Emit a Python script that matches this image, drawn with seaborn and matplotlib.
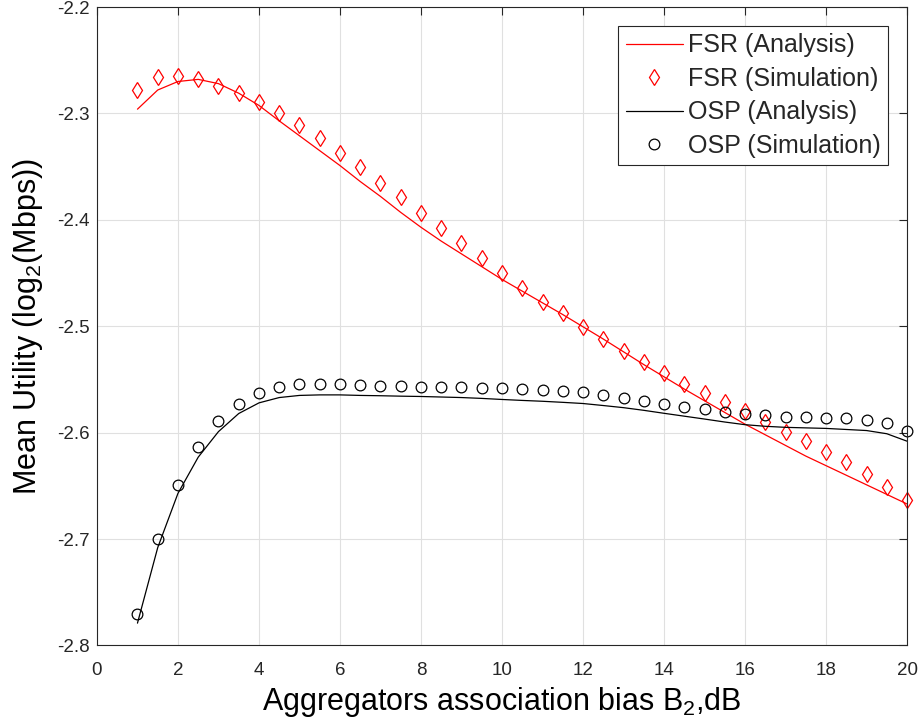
import numpy as np
import pandas as pd
import matplotlib
matplotlib.use("Agg")
import matplotlib.pyplot as plt
import seaborn as sns

# ---------------- data ----------------
bias_db = [1.0, 1.5, 2.0, 2.5, 3.0, 3.5, 4.0, 4.5, 5.0, 5.5,
           6.0, 6.5, 7.0, 7.5, 8.0, 8.5, 9.0, 9.5, 10.0, 10.5,
           11.0, 11.5, 12.0, 12.5, 13.0, 13.5, 14.0, 14.5, 15.0, 15.5,
           16.0, 16.5, 17.0, 17.5, 18.0, 18.5, 19.0, 19.5, 20.0]

fsr_analysis = [-2.296, -2.278, -2.270, -2.268, -2.272, -2.281, -2.2925, -2.307, -2.321, -2.335,
                -2.349, -2.364, -2.378, -2.393, -2.407, -2.420, -2.432, -2.444, -2.456, -2.467,
                -2.478, -2.489, -2.5005, -2.512, -2.524, -2.536, -2.5475, -2.559, -2.570, -2.581,
                -2.592, -2.602, -2.612, -2.622, -2.631, -2.640, -2.649, -2.658, -2.667]

fsr_simulation = [-2.278, -2.266, -2.265, -2.268, -2.274, -2.281, -2.289, -2.300, -2.311, -2.323,
                  -2.337, -2.350, -2.365, -2.379, -2.394, -2.408, -2.422, -2.436, -2.450, -2.464,
                  -2.477, -2.488, -2.501, -2.512, -2.523, -2.534, -2.544, -2.554, -2.563, -2.571,
                  -2.580, -2.590, -2.599, -2.608, -2.618, -2.628, -2.639, -2.651, -2.663]

osp_analysis = [-2.779, -2.708, -2.657, -2.623, -2.599, -2.582, -2.572, -2.567, -2.565, -2.5645,
                -2.5645, -2.565, -2.5653, -2.5657, -2.566, -2.5665, -2.567, -2.5678, -2.5688, -2.5697,
                -2.5705, -2.5715, -2.5726, -2.5745, -2.5765, -2.5790, -2.5818, -2.5845, -2.5872, -2.5900,
                -2.5925, -2.5940, -2.5950, -2.5955, -2.5960, -2.5970, -2.5980, -2.6010, -2.6080]

osp_simulation = [-2.770, -2.700, -2.649, -2.613, -2.589, -2.573, -2.563, -2.557, -2.554, -2.5545,
                  -2.5545, -2.555, -2.5557, -2.556, -2.557, -2.557, -2.557, -2.558, -2.558, -2.559,
                  -2.560, -2.561, -2.562, -2.5645, -2.567, -2.570, -2.573, -2.576, -2.578, -2.581,
                  -2.582, -2.583, -2.585, -2.585, -2.586, -2.586, -2.588, -2.591, -2.598]

x_ticks = [0, 2, 4, 6, 8, 10, 12, 14, 16, 18, 20]
x_tick_labels = ["0", "2", "4", "6", "8", "10", "12", "14", "16", "18", "20"]
y_ticks = [-2.8, -2.7, -2.6, -2.5, -2.4, -2.3, -2.2]
y_tick_labels = ["-2.8", "-2.7", "-2.6", "-2.5", "-2.4", "-2.3", "-2.2"]

series_labels = ["FSR (Analysis)", "FSR (Simulation)", "OSP (Analysis)", "OSP (Simulation)"]
x_label = "Aggregators association bias B$_{2}$,dB"
y_label = "Mean Utility (log$_{2}$(Mbps))"

# ---------------- style ----------------
sns.set_style("white")
plt.rcParams["font.family"] = ["Liberation Sans", "DejaVu Sans"]
plt.rcParams["mathtext.fontset"] = "custom"
plt.rcParams["mathtext.rm"] = "Liberation Sans"
plt.rcParams["mathtext.it"] = "Liberation Sans:italic"
plt.rcParams["mathtext.bf"] = "Liberation Sans:bold"
plt.rcParams["axes.unicode_minus"] = False

RED = "#ff0000"
BLACK = "#000000"
AXC = "#262626"

fig = plt.figure(figsize=(9.2, 7.23), dpi=100)
ax = fig.add_axes([0.1054, 0.1072, 0.8805, 0.8831])

sns.lineplot(x=bias_db, y=fsr_analysis, color=RED, linewidth=0.9,
             label=series_labels[0], errorbar=None, ax=ax)
sns.lineplot(x=bias_db, y=fsr_simulation, color=RED, linestyle="", marker="d",
             markersize=8.0, markerfacecolor="none", markeredgecolor=RED,
             markeredgewidth=0.9, label=series_labels[1], errorbar=None,
             clip_on=False, ax=ax)
sns.lineplot(x=bias_db, y=osp_analysis, color=BLACK, linewidth=0.9,
             label=series_labels[2], errorbar=None, ax=ax)
sns.lineplot(x=bias_db, y=osp_simulation, color=BLACK, linestyle="", marker="o",
             markersize=7.7, markerfacecolor="none", markeredgecolor=BLACK,
             markeredgewidth=0.9, label=series_labels[3], errorbar=None,
             clip_on=False, ax=ax)

ax.set_xlim(0, 20)
ax.set_ylim(-2.8, -2.2)
ax.set_xticks(x_ticks)
ax.set_xticklabels(x_tick_labels)
ax.set_yticks(y_ticks)
ax.set_yticklabels(y_tick_labels)

ax.grid(True, color="#e0e0e0", linewidth=0.8)
ax.set_axisbelow(True)
for sp in ax.spines.values():
    sp.set_visible(True)
    sp.set_color(AXC)
    sp.set_linewidth(0.8)

ax.tick_params(axis="both", direction="in", length=6, width=0.8, color=AXC,
               top=True, right=True, labelsize=13.5, labelcolor=AXC)
ax.tick_params(axis="x", pad=12)
ax.tick_params(axis="y", pad=5)

ax.set_xlabel(x_label, fontsize=22, labelpad=4, color=BLACK)
ax.set_ylabel(y_label, fontsize=22, labelpad=9, color=BLACK)

leg = ax.legend(loc="upper right", fontsize=18, frameon=True, fancybox=False,
                edgecolor=AXC, framealpha=1, numpoints=1, handlelength=2.3,
                handletextpad=0.2, borderaxespad=0.75, labelspacing=0.38,
                borderpad=0.3)
leg.get_frame().set_linewidth(0.8)

fig.savefig("out.png", dpi=100)
